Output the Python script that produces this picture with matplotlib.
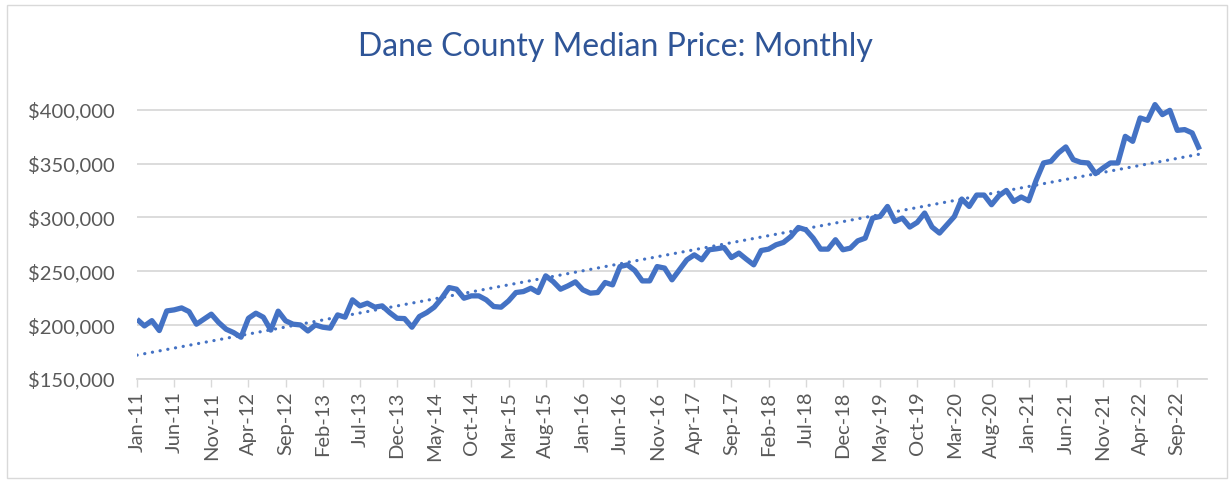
import matplotlib
matplotlib.use("Agg")
import matplotlib.pyplot as plt
import numpy as np
import pandas as pd
from matplotlib.ticker import FuncFormatter
from matplotlib.patches import Rectangle

# ---------------- data ----------------
title = "Dane County Median Price: Monthly"
months = pd.date_range("2011-01-01", periods=144, freq="MS")
month_labels = [d.strftime("%b-%y") for d in months]

median_price = [
    # 2011-01 .. 2013-12
    205500, 199300, 204200, 195000, 213200, 214200, 216000, 212600, 200900, 205500, 210200, 202400,
    196200, 193100, 188800, 206400, 211100, 207400, 195400, 213000, 204000, 200900, 200200, 194600,
    200200, 198100, 197200, 209500, 207400, 223500, 217900, 220400, 216700, 217900, 211700, 206400,
    # 2014-01 .. 2016-11
    206100, 198100, 208000, 211700, 216700, 225000, 234900, 233400, 225000, 227200, 227200, 223500,
    217300, 216700, 222500, 230300, 231200, 234300, 230300, 245800, 240500, 233400, 236500, 240200,
    232800, 229700, 230300, 239600, 237400, 254400, 256000, 250700, 241100, 241100, 254400,
    # 2016-12 .. 2019-11
    253000, 242100, 251400, 260700, 265300, 260700, 270000, 270900, 272100, 262800, 266900, 261300,
    256000, 269300, 270600, 274600, 276800, 282300, 290700, 288600, 280800, 270600, 270600, 279300,
    270000, 271500, 278300, 280800, 299400, 300900, 310200, 296300, 299400, 291100, 295400, 304100,
    # 2019-12 .. 2022-12
    291100, 285500, 293200, 300900, 317100, 310200, 320800, 320800, 311800, 320200, 325100, 314900,
    319000, 315500, 334400, 350600, 352100, 359900, 365500, 353700, 351200, 350600, 340700, 345900,
    350600, 350600, 375300, 370700, 392400, 390200, 404800, 395500, 399500, 380900, 381600, 378500,
    363000,
]
y_ticks = [150000, 200000, 250000, 300000, 350000, 400000]
tick_every = 5

# ---------------- style ----------------
BLUE = "#4472C4"
TITLE_BLUE = "#2F5597"
GRID = "#D9D9D9"
TEXT = "#595959"
FONT = ["Lato", "DejaVu Sans"]
plt.rcParams["font.family"] = FONT

W, H, DPI = 1231, 483, 100
fig = plt.figure(figsize=(W / DPI, H / DPI), dpi=DPI)
ax = fig.add_axes([137 / W, 1 - 379 / H, (1207 - 137) / W, (379 - 99) / H])

x = np.arange(len(median_price))
y = np.array(median_price, dtype=float)

# trend line (linear)
coef = np.polyfit(x, y, 1)
ax.plot(x, np.polyval(coef, x), color=BLUE, lw=2.3, linestyle=(0, (0.05, 2.4)),
        dash_capstyle="round", zorder=3)
ax.plot(x, y, color=BLUE, lw=3.8, solid_joinstyle="round", solid_capstyle="butt", zorder=4)

ax.set_xlim(0, 144)
ax.set_ylim(150000, 410000)

ax.set_yticks(y_ticks)
ax.yaxis.set_major_formatter(FuncFormatter(lambda v, p: f"${v:,.0f}"))
ax.grid(axis="y", color=GRID, lw=1.3, zorder=0)
ax.set_axisbelow(True)

tick_pos = list(range(0, len(month_labels), tick_every))
ax.set_xticks(tick_pos)
ax.set_xticklabels([month_labels[i] for i in tick_pos], rotation=90)

for s in ["top", "right", "left"]:
    ax.spines[s].set_visible(False)
ax.spines["bottom"].set_color(GRID)
ax.spines["bottom"].set_linewidth(1.3)
ax.spines["bottom"].set_zorder(1)

ax.tick_params(axis="y", length=0, pad=16, labelsize=14.5, labelcolor=TEXT)
ax.tick_params(axis="x", length=6, width=1.0, color=GRID, pad=3, labelsize=14.5, labelcolor=TEXT,
               direction="out")

fig.text(0.5, 1 - 47 / H, title, ha="center", va="center", fontsize=23, color=TITLE_BLUE)

# chart border
fig.patches.append(Rectangle((7 / W, 5 / H), (1227 - 7) / W, (478 - 5) / H,
                             transform=fig.transFigure, fill=False, edgecolor=GRID, lw=1.0))

fig.savefig("out.png", dpi=DPI, facecolor="white")
